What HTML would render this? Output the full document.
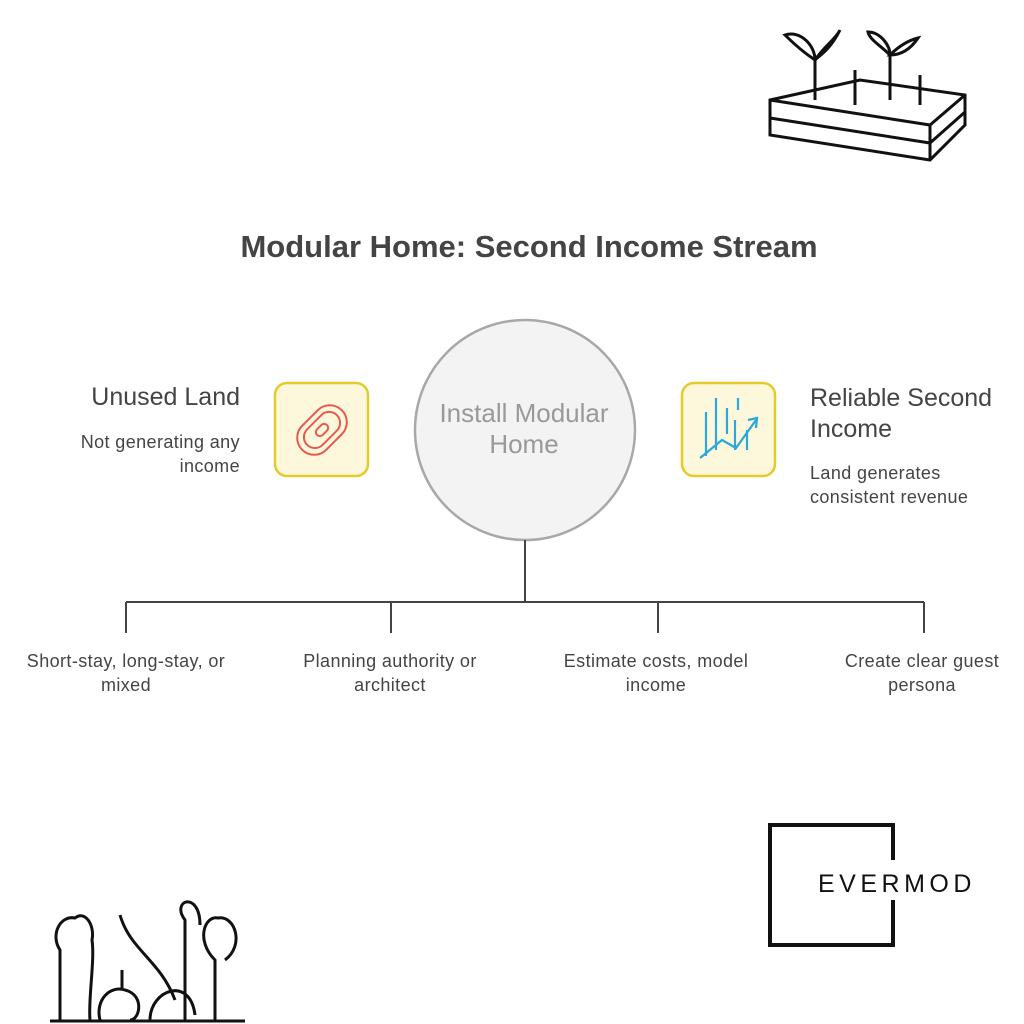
<!DOCTYPE html>
<html><head><style>
body{margin:0;width:1024px;height:1024px;background:#fff;position:relative;font-family:"Liberation Sans",sans-serif;overflow:hidden}
.t{position:absolute;color:#444}
.s{font-size:18px;letter-spacing:0.4px;line-height:24px}
</style></head><body>
<div class="t" style="left:0;width:1058px;top:229px;text-align:center;font-size:31px;font-weight:bold;">Modular Home: Second Income Stream</div>
<svg width="1024" height="1024" style="position:absolute;left:0;top:0">
<circle cx="525" cy="430" r="110" fill="#f3f3f3" stroke="#a8a8a8" stroke-width="2.5"/>
<rect x="275" y="383" width="93" height="93" rx="12" fill="#fdf8dc" stroke="#e2cb2a" stroke-width="2.5"/>
<rect x="682" y="383" width="93" height="93" rx="12" fill="#fdf8dc" stroke="#e2cb2a" stroke-width="2.5"/>
<g fill="none" stroke="#e8584f" stroke-width="2" transform="rotate(-45 322 430)">
<rect x="294" y="413" width="56" height="34" rx="17"/><rect x="301" y="419" width="42" height="22" rx="11"/><rect x="315" y="426" width="14" height="8" rx="4"/></g>
<g fill="none" stroke="#2aa8dc" stroke-width="2.2">
<path d="M700 458 L722 440 L736 448 L756 420 M748 420 L757 418 L756 428"/>
<path d="M706 412v44 M716 398v52 M727 408v26 M735 420v30 M738 398v12 M747 430v20"/></g>
<g stroke="#444" stroke-width="2" fill="none">
<path d="M525 540V602 M126 602H924 M126 602v31 M391 602v31 M658 602v31 M924 602v31"/></g>
<g stroke="#111" stroke-width="3" fill="none">
<path d="M770 100 L860 80 L965 95 L965 125 L930 160 L770 135 Z M770 100 L930 125 L965 95 M930 125 V160 M770 118 L930 143 L965 112"/>
<path d="M815 100V60 M855 105V70 M890 100V55 M920 105V75"/>
<path d="M815 60 C800 50 790 40 785 35 C800 30 815 45 815 60 Z M815 60 C825 45 835 40 840 30 C830 50 820 55 815 60Z M890 55 C880 45 870 40 868 32 C880 32 890 45 890 55Z M890 55 C900 45 910 40 918 38 C910 50 900 55 890 55Z"/>
<path d="M770 825H893V945H770Z" stroke-width="4"/>
<path d="M50 1021H245 M60 1020V950 C50 935 60 915 75 918 C85 910 95 925 92 940 C95 960 88 1000 90 1020 M100 1020 C95 1000 110 985 125 990 C145 995 140 1020 130 1020 M122 990 V970 M150 1020 C150 990 190 975 195 1015 M185 1020V920 C170 900 200 890 200 925 M215 1020V960 C195 940 205 915 218 918 C235 915 245 945 225 960 M175 1000 C160 960 130 950 120 915"/>
</g>
<rect x="790" y="860" width="110" height="40" fill="#fff"/>
</svg>
<div class="t" style="left:0;width:1048px;top:398px;text-align:center;font-size:26px;color:#999;line-height:31px">Install Modular<br>Home</div>
<div class="t" style="right:784px;top:383px;font-size:25px;text-align:right">Unused Land</div>
<div class="t s" style="right:784px;top:430px;text-align:right">Not generating any<br>income</div>
<div class="t" style="left:810px;top:383px;font-size:25px;line-height:31px">Reliable Second<br>Income</div>
<div class="t s" style="left:810px;top:461px">Land generates<br>consistent revenue</div>
<div class="t s" style="left:-4px;width:260px;top:649px;text-align:center">Short-stay, long-stay, or<br>mixed</div>
<div class="t s" style="left:260px;width:260px;top:649px;text-align:center">Planning authority or<br>architect</div>
<div class="t s" style="left:526px;width:260px;top:649px;text-align:center">Estimate costs, model<br>income</div>
<div class="t s" style="left:792px;width:260px;top:649px;text-align:center">Create clear guest<br>persona</div>
<div class="t" style="left:818px;top:870px;font-size:25px;letter-spacing:4.5px;color:#111">EVERMOD</div>
</body></html>
